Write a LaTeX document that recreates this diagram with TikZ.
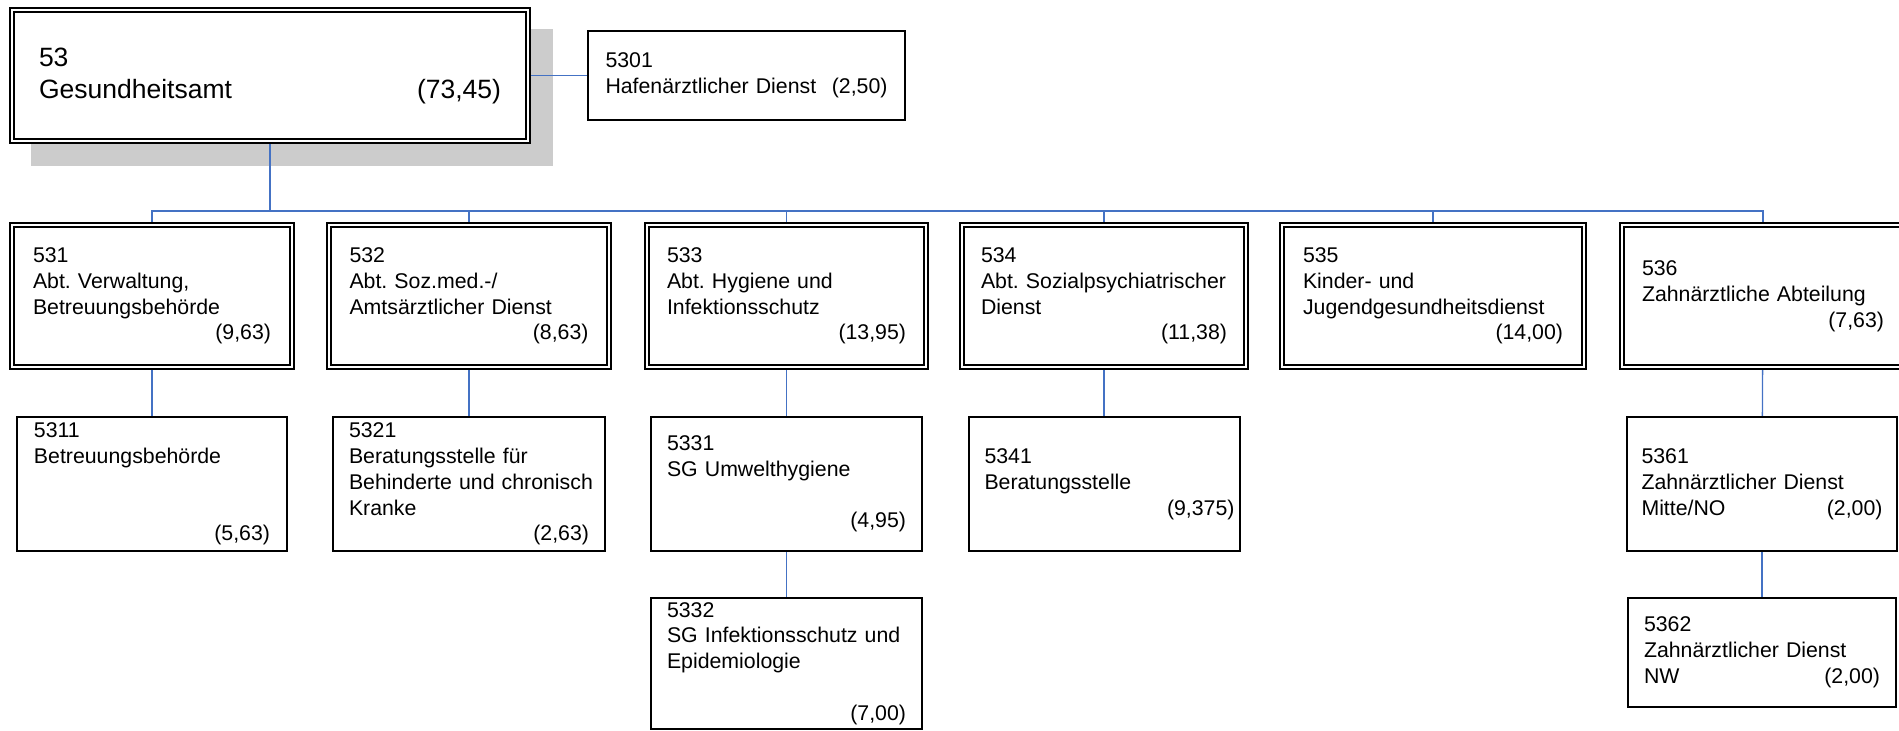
\documentclass[tikz,border=0pt]{standalone}
\usepackage{fontspec}
\setmainfont{Liberation Sans}
\usetikzlibrary{positioning, backgrounds}
\definecolor{linkblue}{RGB}{68,114,196}
\newcommand{\pushr}{\hspace*{0pt plus 1filll}}
\frenchspacing
\hyphenpenalty=10000
\exhyphenpenalty=10000

\begin{document}
\begin{tikzpicture}[
    x=1pt, y=-1pt,
    head/.style={rectangle, draw=black, double, double distance=2pt, line width=2pt, fill=white, outer sep=3pt, inner sep=0pt, align=left, font=\fontsize{26.5}{32}\selectfont},
    dept/.style={rectangle, draw=black, double, double distance=2pt, line width=2pt, fill=white, outer sep=3pt, inner sep=0pt, minimum height=142pt, align=left, font=\fontsize{21.3}{25.8}\selectfont},
    unit/.style={rectangle, draw=black, line width=2pt, fill=white, inner sep=0pt, align=left, font=\fontsize{21.3}{25.8}\selectfont},
    link/.style={draw=linkblue, line width=1.3pt},
    trunk/.style={draw=linkblue, line width=2.4pt},
]
\useasboundingbox (0,0) rectangle (1899,731);
\clip (0,0) rectangle (1899,731);

% ========== TOP ==========
\node[head, minimum width=516pt, minimum height=131pt, text width=462pt] (n53) at (270,75.5) {53\\Gesundheitsamt\pushr(73,45)};
\node[unit, minimum width=317pt, minimum height=89pt, text width=282pt] (n5301) at (746.5,75.5) {5301\\\mbox{Hafenärztlicher Dienst}\pushr(2,50)};
\coordinate (bus) at (270,211);

% ========== ABTEILUNGEN ==========
\node[dept, minimum width=280pt, text width=238pt] (n531) at (152,296) {531\\\mbox{Abt. Verwaltung,}\\Betreuungsbehörde\\\pushr(9,63)};
\node[dept, minimum width=280pt, text width=239pt] (n532) at (469,296) {532\\\mbox{Abt. Soz.med.-/}\\\mbox{Amtsärztlicher Dienst}\\\pushr(8,63)};
\node[dept, minimum width=279pt, text width=239pt] (n533) at (786.5,296) {533\\\mbox{Abt. Hygiene und}\\Infektionsschutz\\\pushr(13,95)};
\node[dept, minimum width=284pt, text width=246pt] (n534) at (1104,296) {534\\\mbox{Abt. Sozialpsychiatrischer}\\Dienst\\\pushr(11,38)};
\node[dept, minimum width=302pt, text width=260pt] (n535) at (1433,296) {535\\\mbox{Kinder- und}\\Jugendgesundheitsdienst\\\pushr(14,00)};
\node[dept, minimum width=282pt, text width=242pt] (n536) at (1763,296) {536\\\mbox{Zahnärztliche Abteilung}\\\pushr(7,63)};

% ========== SACHGEBIETE ==========
\node[unit, minimum width=270pt, minimum height=134pt, text width=236pt] (n5311) at (152,484) {5311\\Betreuungsbehörde\\~\\~\\\pushr(5,63)};
\node[unit, minimum width=272pt, minimum height=134pt, text width=240pt] (n5321) at (469,484) {5321\\\mbox{Beratungsstelle für}\\\mbox{Behinderte und chronisch}\\Kranke\\\pushr(2,63)};
\node[unit, minimum width=271pt, minimum height=134pt, text width=239pt] (n5331) at (786.5,484) {5331\\\mbox{SG Umwelthygiene}\\~\\\pushr(4,95)};
\node[unit, minimum width=271pt, minimum height=134pt, text width=239pt] (n5341) at (1104,484) {5341\\Beratungsstelle\\\pushr(9,375)\kern-11pt};
\node[unit, minimum width=270pt, minimum height=134pt, text width=241pt] (n5361) at (1762,484) {5361\\\mbox{Zahnärztlicher Dienst}\\Mitte/NO\pushr(2,00)};

% third level
\node[unit, minimum width=271pt, minimum height=131pt, text width=239pt] (n5332) at (786.5,663.5) {5332\\\mbox{SG Infektionsschutz und}\\Epidemiologie\\~\\\pushr(7,00)};
\node[unit, minimum width=268pt, minimum height=109pt, text width=236pt] (n5362) at (1762,652.5) {5362\\\mbox{Zahnärztlicher Dienst}\\NW\pushr(2,00)};

% ========== SHADOW + CONNECTORS ==========
\begin{scope}[on background layer]
    \fill[black!20] ([shift={(22pt,-22pt)}]n53.south west) rectangle ([shift={(22pt,-22pt)}]n53.north east);
    \draw[link] (n53.east) -- (n5301.west);
    \draw[trunk] (n53.south) -- (bus);
    \foreach \d in {531,...,536}
        \draw[link] (bus) -| (n\d.north);
    \draw[trunk] (bus) -- (bus -| n534.north);

    \draw[link] (n531) -- (n5311);
    \draw[link] (n532) -- (n5321);
    \draw[link] (n533) -- (n5331);
    \draw[link] (n534) -- (n5341);
    \draw[link] (n536) -- (n5361);
    \draw[link] (n5331) -- (n5332);
    \draw[link] (n5361) -- (n5362);
\end{scope}

\end{tikzpicture}
\end{document}
